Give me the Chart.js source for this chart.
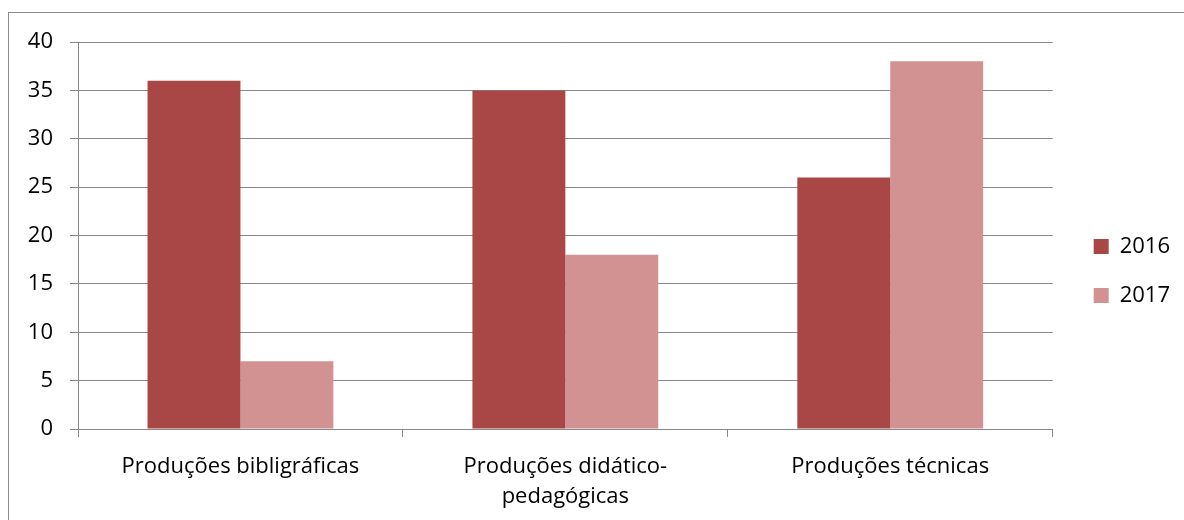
<!DOCTYPE html>
<html>
<head>
<meta charset="utf-8">
<script src="https://cdn.jsdelivr.net/npm/chart.js@4.4.1/dist/chart.umd.min.js"></script>
<style>
  html, body { margin: 0; padding: 0; background: #fff; }
  body { width: 1184px; height: 520px; position: relative; overflow: hidden; }
  #frame {
    position: absolute; left: 8px; top: 12px; width: 1200px; height: 540px;
    border-left: 1px solid #8c8c8c; border-top: 1px solid #8c8c8c;
  }
  #wrap { position: absolute; left: 0; top: 0; width: 1184px; height: 520px; }
</style>
</head>
<body>
<div id="frame"></div>
<div id="wrap"><canvas id="producoesChart" width="1184" height="520"></canvas></div>
<script>
const categories = [
  "Produções bibligráficas",
  ["Produções didático-", "pedagógicas"],
  "Produções técnicas"
];
const years = ["2016", "2017"];
const values2016 = [36, 35, 26];
const values2017 = [7, 18, 38];
const yTicks = { min: 0, max: 40, step: 5 };

const gridColor = "#888888";
const font = { family: "'Open Sans', Lato, sans-serif", size: 22 };

// empty axis used only to reserve space around the plot
function spacer(position, size) {
  return {
    position: position,
    grid: { display: false },
    border: { display: false },
    ticks: { display: false },
    afterFit: (scale) => {
      if (position === "top") scale.height = size;
      else scale.width = size;
    },
  };
}

new Chart(document.getElementById("producoesChart"), {
  type: "bar",
  data: {
    labels: categories,
    datasets: [{
      label: years[0],
      backgroundColor: "#A84745",
      data: values2016,
      barPercentage: 1,
      categoryPercentage: 0.572,
    }, {
      label: years[1],
      backgroundColor: "#D29291",
      data: values2017,
      barPercentage: 1,
      categoryPercentage: 0.572,
    }],
  },
  options: {
    responsive: false,
    animation: false,
    layout: { padding: { top: 32, right: 4, bottom: 10, left: 0 } },
    plugins: {
      tooltip: { enabled: false },
      legend: {
        position: "right",
        labels: {
          boxWidth: 15,
          boxHeight: 15,
          padding: 27,
          color: "#000",
          font: font,
        },
      },
    },
    scales: {
      x: {
        grid: { drawOnChartArea: false, tickLength: 8, color: gridColor },
        border: { color: gridColor },
        ticks: { color: "#000", padding: 15, font: { ...font, lineHeight: 30 / 22 } },
        afterFit: (scale) => { scale.height = 81; },
      },
      y: {
        min: yTicks.min,
        max: yTicks.max,
        grid: { color: gridColor, tickLength: 8 },
        border: { color: gridColor },
        ticks: { stepSize: yTicks.step, color: "#000", padding: 17, font: font },
        afterFit: (scale) => { scale.width = 78; },
      },
      topGap: spacer("top", 10),
      legendGap: spacer("right", 14),
    },
  },
});
</script>
</body>
</html>
